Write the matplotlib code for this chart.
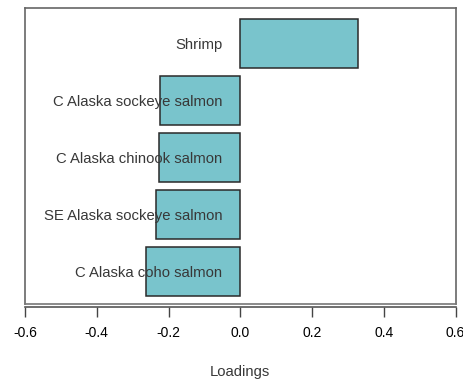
import matplotlib
matplotlib.use("Agg")
import matplotlib.pyplot as plt

plt.rcParams['font.family'] = ['Liberation Sans', 'DejaVu Sans']

species = ["C Alaska coho salmon", "SE Alaska sockeye salmon",
           "C Alaska chinook salmon", "C Alaska sockeye salmon", "Shrimp"]
loadings = [-0.264, -0.235, -0.227, -0.224, 0.327]
xticks = [-0.6, -0.4, -0.2, 0.0, 0.2, 0.4, 0.6]
xtick_labels = ["-0.6", "-0.4", "-0.2", "0.0", "0.2", "0.4", "0.6"]

W, H = 464, 381
fig = plt.figure(figsize=(W / 100, H / 100), dpi=100)
ax = fig.add_axes([25 / W, 1 - 304 / H, (455.6 - 25) / W, (304 - 8) / H])

pos = list(range(len(species)))
ax.barh(pos, loadings, height=0.86, color="#79c4cc", edgecolor="#2a2a2a", linewidth=1.1, zorder=2)

for p, name in zip(pos, species):
    ax.text(-0.05, p, name, ha="right", va="center_baseline", fontsize=10.7, color="#383838", zorder=3)

ax.set_xlim(-0.6, 0.6)
ax.set_ylim(-0.57, 4.62)
ax.set_yticks([])
ax.set_xticks(xticks)
ax.set_xticklabels(xtick_labels, fontsize=10.7, color="#4a4a4a")
ax.tick_params(axis="x", direction="out", length=7.5, width=1, color="#444444", pad=6)

for s in ["left", "right", "top"]:
    ax.spines[s].set_color("#666666")
    ax.spines[s].set_linewidth(1.2)
ax.spines["bottom"].set_position(("outward", 2.2))
ax.spines["bottom"].set_color("#555555")
ax.spines["bottom"].set_linewidth(1.2)
ax.plot([0, 1], [0, 0], transform=ax.transAxes, color="#777777", linewidth=1.2, clip_on=False, zorder=4)

ax.set_xlabel("Loadings", fontsize=10.7, color="#383838", labelpad=18)

fig.savefig("out.png", dpi=100)
